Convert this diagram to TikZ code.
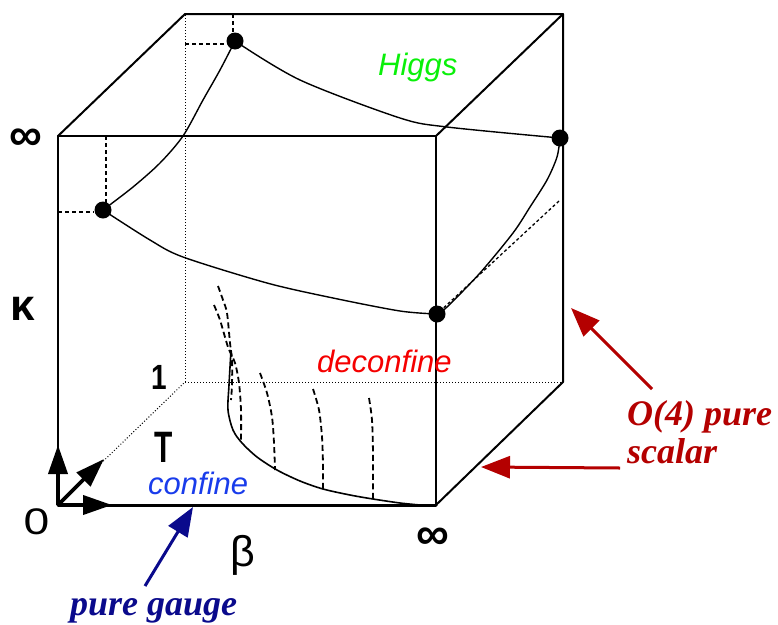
\documentclass[tikz,border=0pt]{standalone}
\usepackage{fontspec}
\setmainfont{Liberation Sans}
\newfontfamily\timesfont{Liberation Serif}
\usetikzlibrary{arrows.meta}
\definecolor{dkred}{RGB}{180,0,0}
\definecolor{dkblue}{RGB}{10,10,140}
\definecolor{confblue}{RGB}{25,60,235}
\definecolor{decred}{RGB}{245,0,0}
\definecolor{higgsgreen}{RGB}{10,240,10}
\begin{document}
\begin{tikzpicture}[x=1pt,y=-1pt,
  edge/.style={line width=2pt, line cap=round, line join=round},
  hidden/.style={line width=1pt, dash pattern=on 1pt off 2pt},
  curve/.style={line width=1.4pt},
  guide/.style={line width=1.3pt, dash pattern=on 4pt off 3pt},
  trans/.style={line width=1.8pt, dash pattern=on 6pt off 3.5pt},
  dot/.style={circle, fill=black, inner sep=0pt, minimum size=17pt},
  axarrow/.style={line width=3.8pt, -{Triangle[length=29pt,width=19pt]}},
  callout/.style={line width=3pt, -{Triangle[length=29pt,width=22pt]}},
  lab/.style={inner sep=0pt},
  region/.style={anchor=base west, inner sep=0pt, font=\itshape\fontsize{31}{31}\selectfont},
  note/.style={anchor=base west, inner sep=0pt, font=\timesfont\bfseries\itshape\fontsize{36}{36}\selectfont}
]
\useasboundingbox (0,0) rectangle (778,624);
% cube corners
\coordinate (F00) at (58,505);
\coordinate (F10) at (436,505);
\coordinate (F01) at (58,136);
\coordinate (F11) at (436,136);
\coordinate (B00) at (185,382);
\coordinate (B10) at (563,382);
\coordinate (B01) at (185,14);
\coordinate (B11) at (563,14);
% hidden edges
\draw[hidden] (B00) -- (B01);
\draw[hidden] (B00) -- (B10);
\draw[hidden] (F00) -- (B00);
% visible edges
\draw[edge] (F01) -- (F11) -- (F10);
\draw[edge] (F01) -- (F00);
\draw[edge, line width=3pt] (F00) -- (F10);
\draw[edge] (F01) -- (B01) -- (B11) -- (B10) -- (F10);
\draw[edge] (F11) -- (B11);
% critical points
\node[dot] (P1) at (103,210) {};
\node[dot] (P2) at (235,41) {};
\node[dot] (P3) at (560,138) {};
\node[dot] (P4) at (437,314) {};
% guide lines to points
\coordinate (P1x) at (58,212);
\coordinate (P1y) at (106,136);
\coordinate (P2x) at (185,44);
\coordinate (P2y) at (233,14);
\draw[guide] (P1x) -- (P1.west |- P1x);
\draw[guide] (P1y) -- (106,203);
\draw[guide] (P2x) -- (P2.west |- P2x);
\draw[guide] (P2y) -- (233,34);
% transition lines
\draw[curve] plot[smooth] coordinates {(P1) (133,187) (160,163) (183,136) (203,100) (220,70) (P2)};
\draw[curve] plot[smooth] coordinates {(P2) (300,80) (400,118) (447,127) (P3)};
\draw[curve] plot[smooth] coordinates {(P1) (150,240) (183,257) (267,283) (333,298) (400,311) (P4)};
\draw[curve] plot[smooth] coordinates {(P3) (557,157) (547,180) (530,207) (513,233) (480,273) (447,307) (P4)};
\coordinate (Q1) at (559,201);
\draw[trans, line width=1.3pt, dash pattern=on 3pt off 2.5pt] (Q1) -- (P4);
% deconfinement curve on bottom face
\coordinate (D0) at (420,505);
\draw[curve, line width=1.6pt] plot[smooth] coordinates {(231,350) (229,385) (228,410) (233,430) (242,443) (257,457) (277,470) (300,481) (323,489) (350,495) (373,499) (400,503) (D0)};
\draw[trans] plot[smooth] coordinates {(218,286) (223,300) (227,313) (230,343) (232,360) (232,385) (231,400)};
\draw[trans] plot[smooth] coordinates {(214,305) (220,320) (228,347) (235,363) (239,383) (241,410) (241,443)};
\draw[trans] plot[smooth] coordinates {(260,373) (267,393) (272,417) (274,443) (275,470)};
\draw[trans] plot[smooth] coordinates {(313,389) (319,410) (322,437) (323,465) (323,489)};
\draw[trans] plot[smooth] coordinates {(369,398) (372,420) (373,453) (373,475) (373,499)};
% axis arrows
\coordinate (AxK) at (58,445);
\coordinate (AxB) at (112,505);
\coordinate (AxT) at (104,459);
\draw[axarrow] (F00) -- (AxK);
\draw[axarrow] (F00) -- (AxB);
\draw[axarrow] (F00) -- (AxT);
% axis labels
\node[lab, font=\bfseries\fontsize{46}{46}\selectfont] (infL) at (25.5,140) {∞};
\node[lab, font=\bfseries\fontsize{44}{44}\selectfont] (kap) at (22.5,309) {κ};
\node[lab, font=\bfseries\fontsize{35}{35}\selectfont] (one) at (159,377.5) {\scalebox{0.8}[1]{1}};
\node[lab, font=\bfseries\fontsize{44}{44}\selectfont] (tee) at (164,447) {\scalebox{0.68}[1]{T}};
\node[lab, font=\fontsize{37}{37}\selectfont] (zero) at (36.5,521.5) {\scalebox{1.25}[1]{0}};
\node[lab, font=\fontsize{43}{43}\selectfont] (bet) at (242.5,555) {β};
\node[lab, font=\bfseries\fontsize{46}{46}\selectfont] (infR) at (433,539) {∞};
% region labels
\node[region, text=higgsgreen] (higgs) at (378,75) {Higgs};
\node[region, text=decred] (deconf) at (317,372) {deconfine};
\node[region, text=confblue] (conf) at (148,494) {confine};
% callouts
\node[note, text=dkred] (o4) at (627,425) {O(4) pure};
\node[note, text=dkred] (scal) at (627,463) {scalar};
\node[note, text=dkblue] (gauge) at (70,615) {pure gauge};
\coordinate (gaugeTail) at (145,586);
\coordinate (gaugeTip) at (193,507);
\coordinate (o4TailA) at (652,389);
\coordinate (o4TipA) at (571,308);
\coordinate (o4TailB) at (620,468);
\coordinate (o4TipB) at (481,467);
\draw[callout, dkblue] (gaugeTail) -- (gaugeTip);
\draw[callout, dkred] (o4TailA) -- (o4TipA);
\draw[callout, dkred] (o4TailB) -- (o4TipB);
\end{tikzpicture}
\end{document}
